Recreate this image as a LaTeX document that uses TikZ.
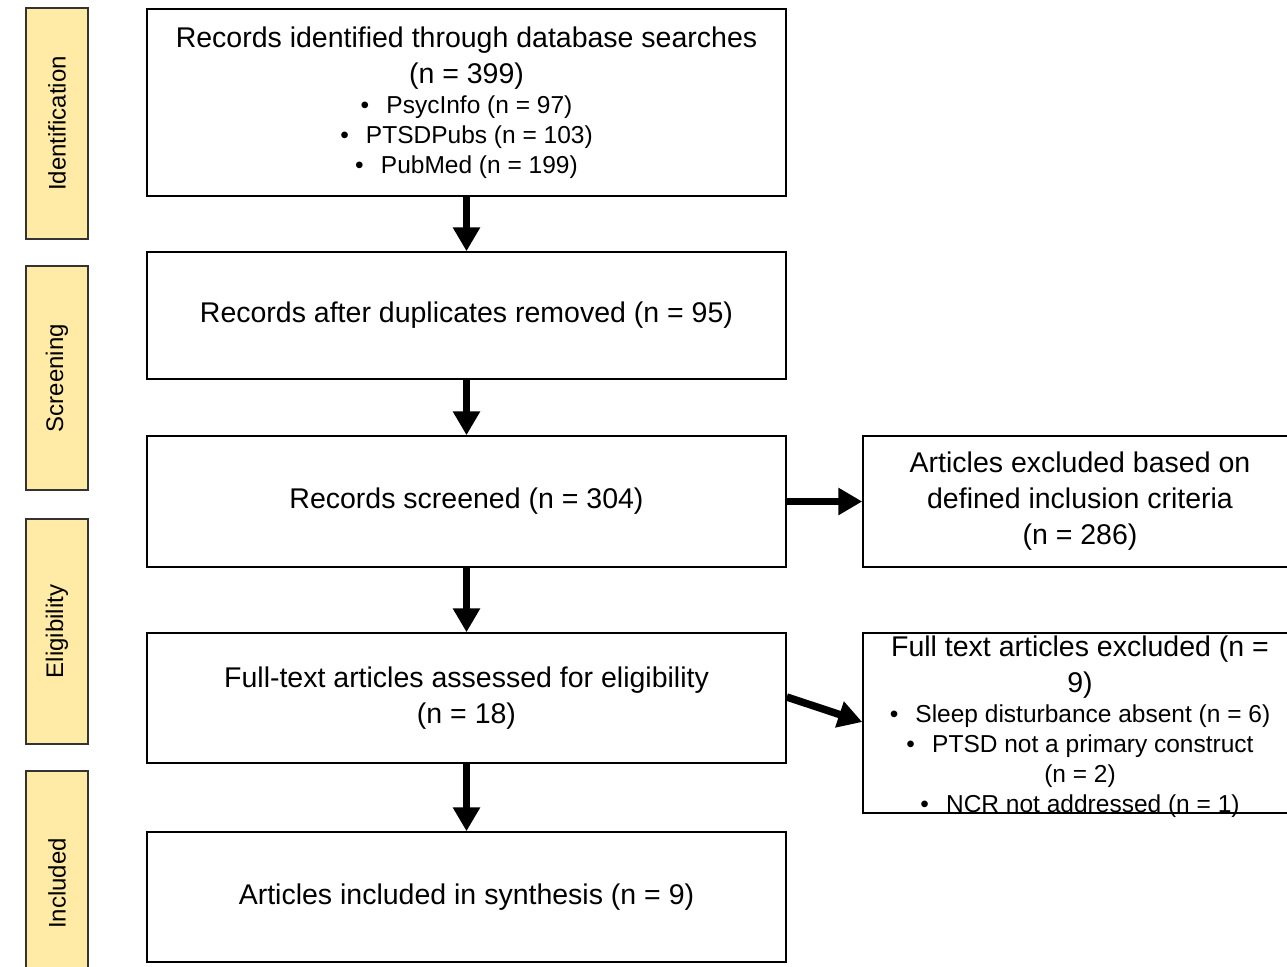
\documentclass[tikz,border=0pt]{standalone}
\usepackage{fontspec}
\setmainfont{Liberation Sans}
\usetikzlibrary{arrows.meta}
\definecolor{phasefill}{HTML}{FFEBA6}
\definecolor{phaseline}{HTML}{333333}
\newcommand{\mainsz}{\fontsize{28.5}{36}\selectfont}
\newcommand{\bulsz}{\fontsize{24.5}{30}\selectfont}
\newcommand{\bul}{\textbullet\hspace{0.7em}}
\begin{document}
\begin{tikzpicture}[x=1pt,y=-1pt,
    box/.style={draw,line width=1.5pt,inner sep=0pt,align=flush center,font=\mainsz},
    phase/.style={draw=phaseline,line width=1.6pt,fill=phasefill,rotate=90,inner sep=0pt,
      minimum height=62pt,font=\fontsize{24}{28}\selectfont},
    flow/.style={line width=7.5pt,-{Triangle[width=26pt,length=24pt]}}]

       \useasboundingbox (0,0) rectangle (1287,966);
       \clip (0,0) rectangle (1287,966);

       % phases
       \node[phase,minimum width=231pt] (ident) at (57,123.5) {Identification};
       \node[phase,minimum width=224pt] (screen) at (57,378) {Screening};
       \node[phase,minimum width=225pt] (elig) at (57,631.5) {Eligibility};
       \node[phase,minimum width=225pt] (incl) at (57,883.5) {Included};

       % main column
       \node[box,text width=639pt,minimum height=187pt] (found) at (466.5,102.5)
         {Records identified through database searches\par (n = 399)\par
          \bulsz\bul PsycInfo (n = 97)\par \bul PTSDPubs (n = 103)\par \bul PubMed (n = 199)\par};
       \node[box,text width=639pt,minimum height=127pt] (dedup) at (466.5,315.5)
         {Records after duplicates removed (n = 95)};
       \node[box,text width=639pt,minimum height=131pt] (screened) at (466.5,501.5)
         {Records screened (n = 304)};
       \node[box,text width=639pt,minimum height=130pt] (fulltext) at (466.5,698)
         {Full-text articles assessed for eligibility\par (n = 18)\par};
       \node[box,text width=639pt,minimum height=130pt] (included) at (466.5,897)
         {Articles included in synthesis (n = 9)};

       % exclusions
       \node[box,text width=434pt,minimum height=131pt] (excl1) at (1080,501.5)
         {Articles excluded based on\par defined inclusion criteria\par (n = 286)\par};
       \node[box,text width=434pt,minimum height=180pt] (excl2) at (1080,723) {};
       \node[align=flush center,text width=434pt,inner sep=0pt,font=\mainsz] (excl2txt) at ([yshift=-4pt]excl2.center)
         {Full text articles excluded (n =\par 9)\par
          \bulsz\bul Sleep disturbance absent (n = 6)\par \bul PTSD not a primary construct\par
          (n = 2)\par \bul NCR not addressed (n = 1)\par};

       \draw[flow] (found) -- (dedup);
       \draw[flow] (dedup) -- (screened);
       \draw[flow] (screened) -- (fulltext);
       \draw[flow] (fulltext) -- (included);
       \draw[flow] (screened) -- (excl1);
       \draw[flow] (fulltext.east |- 0,697) -- (excl2.west |- 0,722);
     \end{tikzpicture}
\end{document}
